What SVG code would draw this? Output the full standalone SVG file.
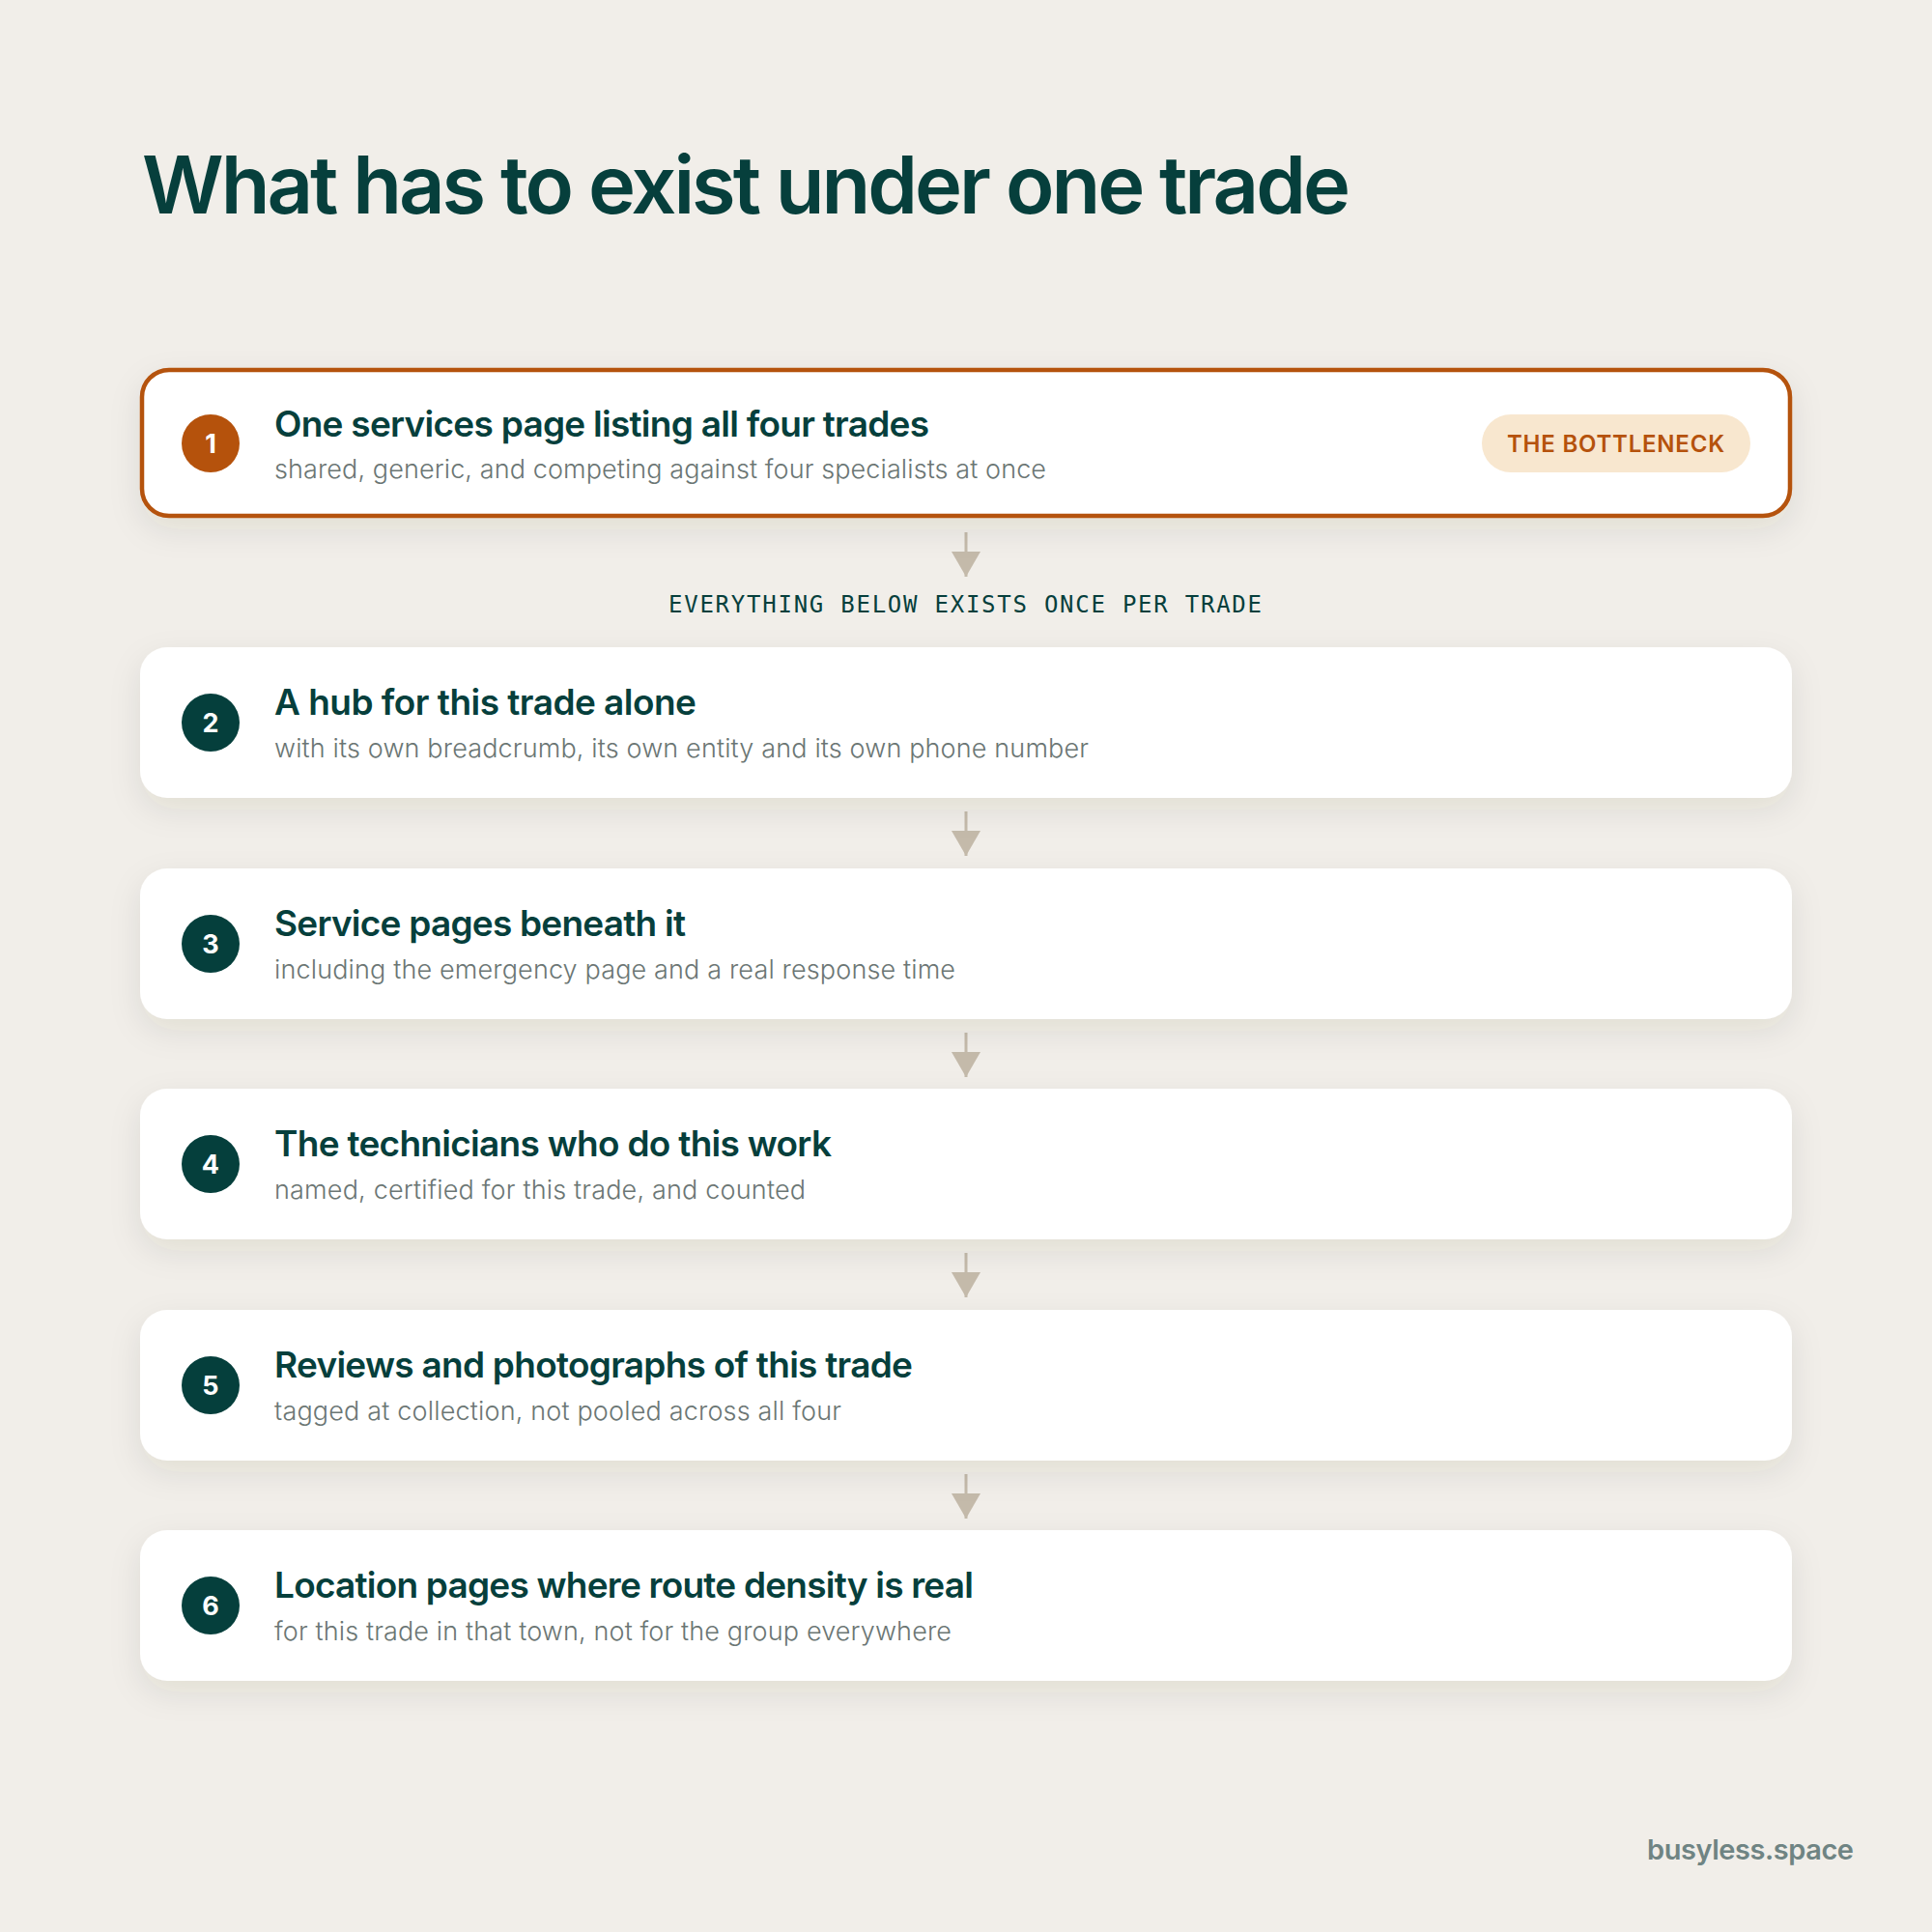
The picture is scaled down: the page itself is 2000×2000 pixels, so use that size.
<svg xmlns="http://www.w3.org/2000/svg" width="2000" height="2000" viewBox="0 0 2000 2000">
  <style>
    .bg { fill: #F1EEE9; }
    .card { fill: #FFFFFF; }
    .card-hl { fill: #FFFFFF; stroke: #B5520C; stroke-width: 4.5; }
    .num-bg { fill: #053F3C; }
    .num-bg-hl { fill: #B5520C; }
    .num { font-family: Inter, "Liberation Sans", sans-serif; font-weight: 700; font-size: 27px; fill: #FFFFFF; text-anchor: middle; }
    .h1 { font-family: Inter, "Liberation Sans", sans-serif; font-weight: 600; font-size: 83px; fill: #063F3C; }
    .ttl { font-family: Inter, "Liberation Sans", sans-serif; font-weight: 600; font-size: 37px; fill: #063F3C; }
    .sub { font-family: Inter, "Liberation Sans", sans-serif; font-weight: 300; font-size: 27px; fill: #6B7674; }
    .mono { font-family: "DejaVu Sans Mono", "Liberation Mono", monospace; font-size: 24px; fill: #063F3C; }
    .badge { fill: #F8E7CF; }
    .badge-t { font-family: Inter, "Liberation Sans", sans-serif; font-weight: 600; font-size: 24px; fill: #B5520C; }
    .foot { font-family: Inter, "Liberation Sans", sans-serif; font-weight: 600; font-size: 29px; fill: #6F8483; }
    .conn { stroke: #C4BAAA; stroke-width: 3; fill: none; }
  </style>
  <defs>
    <filter id="shadow" x="-10%" y="-30%" width="120%" height="180%">
      <feDropShadow dx="0" dy="12" stdDeviation="16" flood-color="#3A3020" flood-opacity="0.09"/>
    </filter>
    <marker id="arrow" viewBox="0 0 26 30" refX="26" refY="15" markerWidth="26" markerHeight="30" markerUnits="userSpaceOnUse" orient="auto">
      <path d="M0,0 L26,15 L0,30 Z" fill="#C4BAAA"/>
    </marker>
  </defs>

  <rect class="bg" x="0" y="0" width="2000" height="2000"/>

  <text class="h1" x="147" y="221" textLength="1251">What has to exist under one trade</text>

  <g id="connectors">
    <line class="conn" x1="1000" y1="551" x2="1000" y2="597" marker-end="url(#arrow)"/>
    <line class="conn" x1="1000" y1="840" x2="1000" y2="886" marker-end="url(#arrow)"/>
    <line class="conn" x1="1000" y1="1069" x2="1000" y2="1115" marker-end="url(#arrow)"/>
    <line class="conn" x1="1000" y1="1297" x2="1000" y2="1343" marker-end="url(#arrow)"/>
    <line class="conn" x1="1000" y1="1526" x2="1000" y2="1572" marker-end="url(#arrow)"/>
  </g>

  <g id="label-once">
    <text class="mono" x="692" y="634" textLength="614">EVERYTHING BELOW EXISTS ONCE PER TRADE</text>
  </g>

  <g id="node-1">
    <rect class="card-hl" x="147" y="383" width="1706" height="151" rx="28" filter="url(#shadow)"/>
    <circle class="num-bg-hl" cx="218" cy="459" r="30"/>
    <text class="num" x="218" y="469">1</text>
    <text class="ttl" x="284" y="452" textLength="678">One services page listing all four trades</text>
    <text class="sub" x="284" y="495" textLength="799">shared, generic, and competing against four specialists at once</text>
    <rect class="badge" x="1534" y="429" width="278" height="60" rx="30"/>
    <text class="badge-t" x="1560" y="468" textLength="225">THE BOTTLENECK</text>
  </g>

  <g id="node-2">
    <rect class="card" x="145" y="670" width="1710" height="156" rx="28" filter="url(#shadow)"/>
    <circle class="num-bg" cx="218" cy="748" r="30"/>
    <text class="num" x="218" y="758">2</text>
    <text class="ttl" x="284" y="740" textLength="437">A hub for this trade alone</text>
    <text class="sub" x="284" y="784" textLength="843">with its own breadcrumb, its own entity and its own phone number</text>
  </g>

  <g id="node-3">
    <rect class="card" x="145" y="899" width="1710" height="156" rx="28" filter="url(#shadow)"/>
    <circle class="num-bg" cx="218" cy="977" r="30"/>
    <text class="num" x="218" y="987">3</text>
    <text class="ttl" x="284" y="969" textLength="426">Service pages beneath it</text>
    <text class="sub" x="284" y="1013" textLength="705">including the emergency page and a real response time</text>
  </g>

  <g id="node-4">
    <rect class="card" x="145" y="1127" width="1710" height="156" rx="28" filter="url(#shadow)"/>
    <circle class="num-bg" cx="218" cy="1205" r="30"/>
    <text class="num" x="218" y="1215">4</text>
    <text class="ttl" x="284" y="1197" textLength="577">The technicians who do this work</text>
    <text class="sub" x="284" y="1241" textLength="550">named, certified for this trade, and counted</text>
  </g>

  <g id="node-5">
    <rect class="card" x="145" y="1356" width="1710" height="156" rx="28" filter="url(#shadow)"/>
    <circle class="num-bg" cx="218" cy="1434" r="30"/>
    <text class="num" x="218" y="1444">5</text>
    <text class="ttl" x="284" y="1426" textLength="661">Reviews and photographs of this trade</text>
    <text class="sub" x="284" y="1470" textLength="587">tagged at collection, not pooled across all four</text>
  </g>

  <g id="node-6">
    <rect class="card" x="145" y="1584" width="1710" height="156" rx="28" filter="url(#shadow)"/>
    <circle class="num-bg" cx="218" cy="1662" r="30"/>
    <text class="num" x="218" y="1672">6</text>
    <text class="ttl" x="284" y="1654" textLength="724">Location pages where route density is real</text>
    <text class="sub" x="284" y="1698" textLength="701">for this trade in that town, not for the group everywhere</text>
  </g>

  <text class="foot" x="1705" y="1925" textLength="214">busyless.space</text>
</svg>
